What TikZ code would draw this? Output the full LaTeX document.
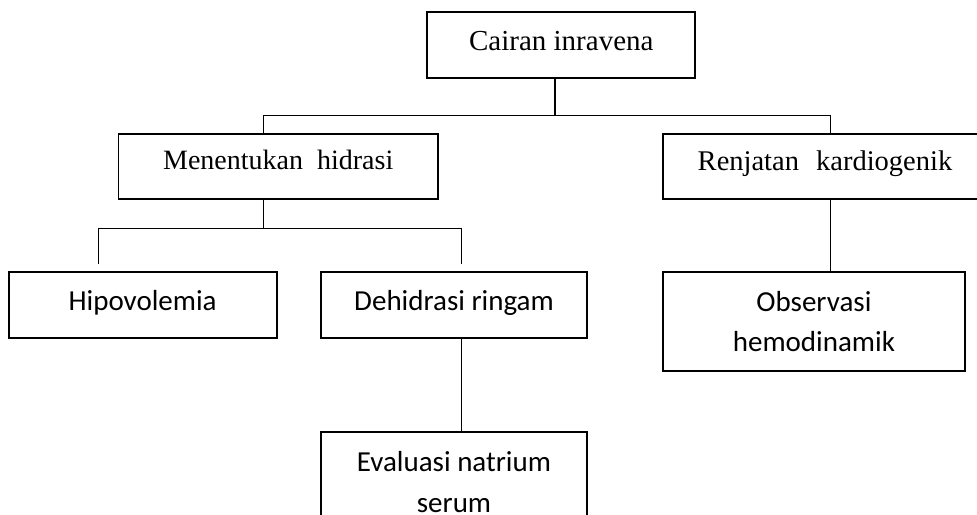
\documentclass[tikz,border=0pt]{standalone}
\usepackage{fontspec}
\setmainfont{Liberation Serif}
\newfontfamily\calibri{Carlito}
\tikzset{
  kotak/.style={draw, line width=1.8pt, inner sep=0pt, align=center, text depth=0pt},
  serifteks/.style={font=\fontsize{29}{34}\selectfont},
  sansteks/.style={font=\calibri\fontsize{29}{40.5}\selectfont},
  garis/.style={line width=1.4pt}
}
\begin{document}
\begin{tikzpicture}[x=1pt,y=-1pt]
    \useasboundingbox (0,0) rectangle (977,514);
    \clip (0,0) rectangle (977,514);
    % Kotak atas
    \node[kotak,serifteks,minimum width=268pt,minimum height=66pt,text height=9.4pt] (cairan) at (561.3,45.3) {Cairan inravena};
    % Tingkat kedua
    \node[kotak,serifteks,font=\fontsize{28}{34}\selectfont,minimum width=319.6pt,minimum height=65.6pt,text height=5.6pt] (hidrasi) at (278.2,166.5) {Menentukan\hspace{0.5em}hidrasi};
    \node[kotak,serifteks,font=\fontsize{28.5}{34}\selectfont,minimum width=324pt,minimum height=65.6pt,text height=7pt] (renjatan) at (825,166.5) {Renjatan\hspace{0.6em}kardiogenik};
    % Tingkat ketiga
    \node[kotak,sansteks,minimum width=268pt,minimum height=66pt,text height=12pt] (hipo) at (142.6,304.7) {Hipovolemia};
    \node[kotak,sansteks,minimum width=266.6pt,minimum height=66pt,text height=12pt] (dehidrasi) at (454,304.7) {Dehidrasi ringam};
    \node[kotak,sansteks,minimum width=302.3pt,minimum height=99.3pt,text depth=,text height=] (observasi) at (813.9,321.4) {Observasi\\hemodinamik};
    % Tingkat keempat
    \node[kotak,sansteks,minimum width=266.6pt,minimum height=99.3pt,text depth=,text height=] (natrium) at (454,481.8) {Evaluasi natrium\\serum};
    % Garis penghubung
    \coordinate (b1) at (555,115.3);
    \coordinate (b2) at (263.5,228.3);
    \draw[garis] (cairan.south -| b1) -- (b1);
    \draw[garis] ([xshift=-14.7pt]hidrasi.north) |- (b1) -| ([xshift=5.5pt]renjatan.north);
    \draw[garis] ([xshift=-14.7pt]hidrasi.south) -- (b2);
    \draw[garis] ([xshift=-44.2pt,yshift=6.5pt]hipo.north) |- (b2) -| ([xshift=7.3pt,yshift=6.5pt]dehidrasi.north);
    \draw[garis] ([xshift=5.5pt]renjatan.south) -- ([xshift=16.6pt]observasi.north);
    \draw[garis] ([xshift=7.3pt]dehidrasi.south) -- ([xshift=7.3pt]natrium.north);
\end{tikzpicture}
\end{document}
